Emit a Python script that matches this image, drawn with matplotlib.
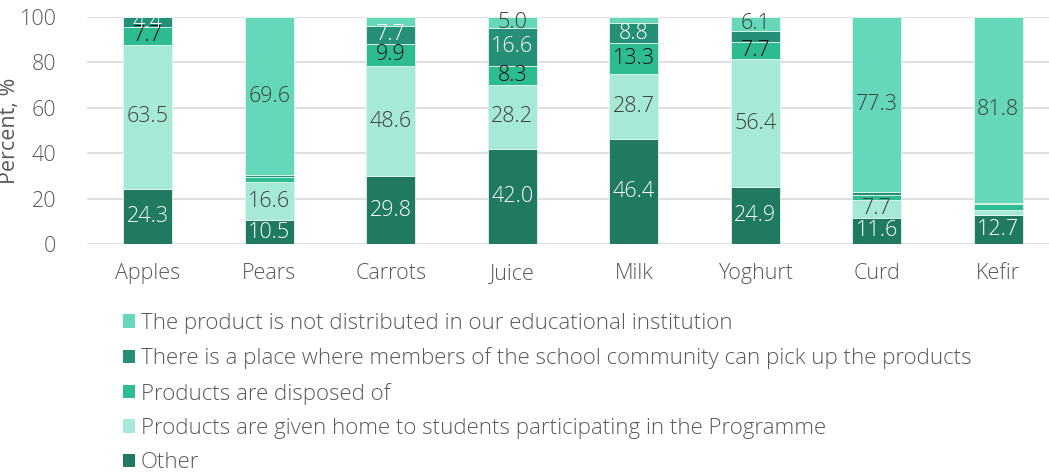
import matplotlib
matplotlib.use("Agg")
import matplotlib.pyplot as plt
from matplotlib.patches import Patch

plt.rcParams["font.family"] = ["Open Sans", "DejaVu Sans"]
plt.rcParams["font.weight"] = "light"

categories = ["Apples", "Pears", "Carrots", "Juice", "Milk", "Yoghurt", "Curd", "Kefir"]

# stacked bottom to top
other = [24.3, 10.5, 29.8, 42.0, 46.4, 24.9, 11.6, 12.7]
given_home = [63.5, 16.6, 48.6, 28.2, 28.7, 56.4, 7.7, 2.4]
disposed = [7.7, 2.4, 9.9, 8.3, 13.3, 7.7, 2.4, 2.5]
pickup_place = [4.4, 0.8, 7.7, 16.6, 8.8, 4.9, 1.0, 0.6]
not_distributed = [0.0, 69.6, 4.0, 5.0, 2.8, 6.1, 77.3, 81.8]

series_names = [
    "Other",
    "Products are given home to students participating in the Programme",
    "Products are disposed of",
    "There is a place where members of the school community can pick up the products",
    "The product is not distributed in our educational institution",
]
series_values = [other, given_home, disposed, pickup_place, not_distributed]
series_colors = ["#1f7a5f", "#a6e9d6", "#2dbb92", "#268f78", "#64d8b9"]
label_colors = ["white", "#404040", "#111111", "white", "#404040"]

# segments too thin to carry a value label: (series index, category index)
unlabeled = {(3, 1), (3, 5), (3, 6), (3, 7), (2, 1), (2, 6), (2, 7), (1, 7),
             (4, 0), (4, 2), (4, 4)}

fig = plt.figure(figsize=(10.49, 4.73), dpi=100)
ax = fig.add_axes([87 / 1049, 1 - 244 / 473, 1 - 87 / 1049, (244 - 17) / 473])

x = list(range(len(categories)))
bottoms = [0.0] * len(categories)
for s, (values, color) in enumerate(zip(series_values, series_colors)):
    ax.bar(x, values, width=0.4, bottom=bottoms, color=color,
           edgecolor="#e3f5ef", linewidth=0.6, zorder=2)
    for i, v in enumerate(values):
        if v > 0 and (s, i) not in unlabeled:
            ax.text(i, bottoms[i] + v / 2, f"{v:.1f}", ha="center", va="center",
                    fontsize=15.5, color=label_colors[s], zorder=3)
    bottoms = [b + v for b, v in zip(bottoms, values)]

ax.set_xlim(-0.5, -0.5 + 962 / 121.5)
ax.set_ylim(0, 100)
ax.set_yticks(range(0, 101, 20))
ax.set_xticks(x, categories)
ax.tick_params(length=0, labelsize=15.5, labelcolor="#595959")
ax.tick_params(axis="y", pad=22)
ax.tick_params(axis="x", pad=14)
ax.yaxis.grid(True, color="#d9d9d9", linewidth=1.2, zorder=0)
ax.set_axisbelow(True)
for spine in ax.spines.values():
    spine.set_visible(False)
ax.set_ylabel("Percent, %", fontsize=15.5, color="#595959")
ax.yaxis.set_label_coords((20 - 87) / 962, 0.5)

handles = [Patch(facecolor=c, edgecolor="none") for c in series_colors]
fig.legend(handles[::-1], series_names[::-1], loc="upper left",
           bbox_to_anchor=(123 / 1049, 1 - 313 / 473), frameon=False,
           fontsize=16, labelcolor="#595959", handlelength=0.55,
           handleheight=0.55, handletextpad=0.25, labelspacing=0.6,
           borderaxespad=0, borderpad=0)

fig.savefig("out.png", dpi=100)
